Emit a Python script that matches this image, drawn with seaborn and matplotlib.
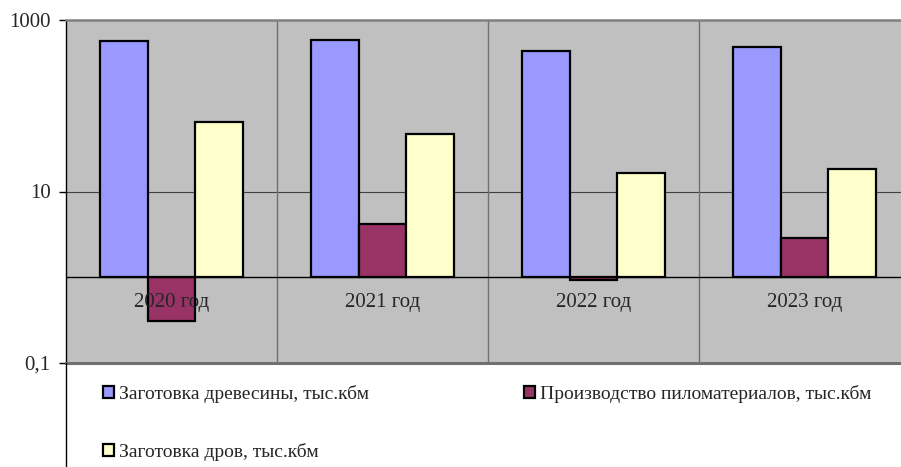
import numpy as np
import pandas as pd
import matplotlib
matplotlib.use("Agg")
import matplotlib.pyplot as plt
from matplotlib.lines import Line2D
import seaborn as sns

# data (log scale, bars start at 1)
years = ["2020 год", "2021 год", "2022 год", "2023 год"]
wood = [570, 580, 436, 484]          # Заготовка древесины, тыс.кбм
lumber = [0.31, 4.2, 0.93, 2.9]      # Производство пиломатериалов, тыс.кбм
firewood = [65, 46.6, 16.4, 18.3]    # Заготовка дров, тыс.кбм

series_names = ["Заготовка древесины, тыс.кбм",
                "Производство пиломатериалов, тыс.кбм",
                "Заготовка дров, тыс.кбм"]
colors = ["#9999FF", "#993366", "#FFFFCC"]

df = pd.DataFrame({
    "year": years * 3,
    "series": np.repeat(series_names, len(years)),
    "value": wood + lumber + firewood,
})
# Excel-style log axis crossing at 1: plot log10 values, bars grow from 0
df["logv"] = np.log10(df["value"])

sns.set_style("white")
plt.rcParams["font.family"] = ["Liberation Serif", "DejaVu Serif"]

fig = plt.figure(figsize=(9.01, 4.67), dpi=100)
ax = fig.add_axes([66 / 901, 104 / 467, 844 / 901, 343 / 467])
ax.set_facecolor("#C0C0C0")

sns.barplot(data=df, x="year", y="logv", hue="series", palette=colors,
            width=0.673, gap=0, edgecolor="black", linewidth=1.6,
            saturation=1, ax=ax, legend=True, zorder=3)

ax.set_ylim(-1, 3)
ax.set_xlim(-0.5, 3.5)
ax.set_yticks([-1, 1, 3])
ax.set_yticklabels(["0,1", "10", "1000"], fontsize=15)
ax.tick_params(axis="y", direction="out", length=5, width=1, color="black", pad=6, left=True)
ax.set_xticks([])
ax.set_xlabel("")
ax.set_ylabel("")

# gridlines and category dividers
ax.axhline(1, color="#404040", lw=0.8, zorder=1)
ax.axhline(0, color="black", lw=1.0, zorder=4)
for xb in [0.5, 1.5, 2.5]:
    ax.axvline(xb, color="#707070", lw=1.0, zorder=1)

# category labels under the crossing line
for i, yr in enumerate(years):
    ax.text(i, -0.30, yr, ha="center", va="center", fontsize=15, zorder=5)

ax.spines["right"].set_visible(False)
ax.spines["top"].set_color("#808080")
ax.spines["top"].set_linewidth(1.8)
ax.spines["bottom"].set_color("#707070")
ax.spines["bottom"].set_linewidth(2.2)
ax.spines["left"].set_color("black")
ax.spines["left"].set_linewidth(1.0)

# left axis line continues below the plot area
fig.add_artist(Line2D([66 / 901, 66 / 901], [0, 104 / 467], color="black", lw=1.0))

handles, labels = ax.get_legend_handles_labels()
ax.get_legend().remove()
order = [0, 2, 1]
fig.legend([handles[i] for i in order], [labels[i] for i in order],
           ncol=2, loc="upper left", bbox_to_anchor=(103 / 901, 1 - 385 / 467),
           frameon=False, fontsize=14, handlelength=0.55, handleheight=0.55,
           handletextpad=0.25, columnspacing=8.0, labelspacing=2.05,
           borderaxespad=0, borderpad=0)

fig.savefig("out.png", dpi=100)
